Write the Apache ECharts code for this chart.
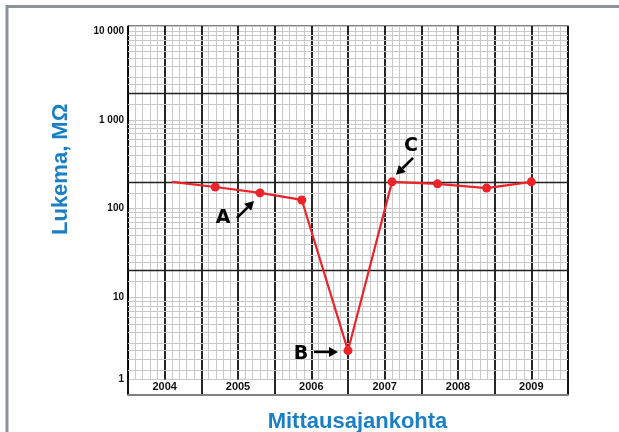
<!DOCTYPE html>
<html>
<head>
<meta charset="utf-8">
<script src="https://cdn.jsdelivr.net/npm/echarts@6/dist/echarts.min.js"></script>
<style>
html, body {margin: 0; padding: 0; background: #fff;}
#main {width: 619px; height: 432px;}
</style>
</head>
<body>
<div id="main"></div>
<script>
// measurement dates (fraction of year) and readings in megaohms
var years = ['2004', '2005', '2006', '2007', '2008', '2009'];
var times = [2004.1, 2004.69, 2005.3, 2005.87, 2006.5, 2007.1, 2007.72, 2008.39, 2009.0];
var readings = [200, 175, 150, 125, 2.5, 200, 190, 170, 200];
var yTicks = [1, 10, 100, 1000, 10000];
var heavyRows = [20, 200, 2000];
var paperRows = [1.5, 2, 2.5, 3, 4, 5, 6, 7, 8, 9,
  15, 25, 30, 40, 50, 60, 70, 80, 90,
  150, 250, 300, 400, 500, 600, 700, 800, 900,
  1500, 2500, 3000, 4000, 5000, 6000, 7000, 8000, 9000];
// which point each callout letter points at
var notes = [{idx: 2, text: 'A'}, {idx: 4, text: 'B'}, {idx: 5, text: 'C'}];

var blue = '#1b7fc4', red = '#ec2329';
var chart = echarts.init(document.getElementById('main'));

function fmt(v) {
  var best = yTicks[0];
  yTicks.forEach(function (t) { if (Math.abs(Math.log10(t) - Math.log10(v)) < Math.abs(Math.log10(best) - Math.log10(v))) best = t; });
  if (Math.abs(Math.log10(best) - Math.log10(v)) > 0.1) return '';
  return String(best).replace(/\B(?=(\d{3})+(?!\d))/g, ' ');
}

var pts = times.map(function (t, i) {
  var d = {value: [t, readings[i]]};
  if (i === 0) d.symbol = 'none';
  return d;
});

chart.setOption({
  animation: false,
  grid: [
    {left: 128, right: 51, top: 26, bottom: 52.5, show: true, borderColor: '#000', borderWidth: 1.2},
    {left: 128, right: 51, top: 379.5, height: 15.5, show: true, borderColor: '#000', borderWidth: 1}
  ],
  xAxis: [{
    gridIndex: 0, type: 'value', min: 2003.5, max: 2009.5, interval: 0.5,
    axisLine: {show: false}, axisTick: {show: false}, axisLabel: {show: false},
    splitLine: {lineStyle: {color: '#000', width: 1.7}},
    minorTick: {show: false, splitNumber: 5},
    minorSplitLine: {show: true, lineStyle: {color: '#c9c9c9', width: 1}}
  }, {
    gridIndex: 1, type: 'category', data: years, boundaryGap: true,
    axisLine: {lineStyle: {color: '#808080', width: 2}},
    axisTick: {show: false},
    splitLine: {show: true, interval: 0, lineStyle: {color: '#000', width: 1.7}},
    axisLabel: {inside: true, margin: 8, verticalAlign: 'middle', color: '#111',
      fontFamily: 'Liberation Sans, Arial, sans-serif', fontWeight: 'bold', fontSize: 11}
  }],
  yAxis: [{
    gridIndex: 0, type: 'log', logBase: 10, min: 1.18, max: 11450,
    axisLine: {show: true, lineStyle: {color: '#000', width: 1}},
    axisTick: {show: false},
    axisLabel: {margin: 4, color: '#111', fontSize: 10, fontWeight: 'bold',
      fontFamily: 'Liberation Sans, Arial, sans-serif', showMaxLabel: false, formatter: fmt},
    splitLine: {lineStyle: {color: '#c9c9c9', width: 1}}
  }, {
    gridIndex: 1, type: 'value', show: false
  }],
  series: [{
    type: 'line', xAxisIndex: 0, yAxisIndex: 0, data: [], z: 1, silent: true,
    markLine: {
      silent: true, symbol: 'none', label: {show: false},
      lineStyle: {color: '#c9c9c9', width: 1, type: 'solid'},
      data: paperRows.map(function (v) { return {yAxis: v}; })
    }
  }, {
    type: 'line', xAxisIndex: 0, yAxisIndex: 0, data: [], z: 1, silent: true,
    markLine: {
      silent: true, symbol: 'none', label: {show: false},
      lineStyle: {color: '#222', width: 1.3, type: 'solid'},
      data: heavyRows.map(function (v) { return {yAxis: v}; })
    }
  }, {
    type: 'line', xAxisIndex: 0, yAxisIndex: 0, data: pts, z: 5,
    symbol: 'circle', symbolSize: 9,
    lineStyle: {color: red, width: 2.2},
    itemStyle: {color: red}
  }]
});

function arrow(x1, y1, x2, y2) {
  var a = Math.atan2(y2 - y1, x2 - x1), L = 9, W = 5;
  var bx = x2 - L * Math.cos(a), by = y2 - L * Math.sin(a);
  return [
    {type: 'line', z: 100, shape: {x1: x1, y1: y1, x2: bx, y2: by}, style: {stroke: '#000', lineWidth: 2.6}},
    {type: 'polygon', z: 100, shape: {points: [[x2, y2],
      [bx - W * Math.sin(a), by + W * Math.cos(a)],
      [bx + W * Math.sin(a), by - W * Math.cos(a)]]}, style: {fill: '#000'}}
  ];
}

// callout offsets from their points, in pixels
var callout = {
  A: {t: [-37, 25.5], a: [-23, 25, -6, 8]},
  B: {t: [-47, 3], a: [-34, 1.3, -10, 1.3]},
  C: {t: [19, -36], a: [21, -24, 4, -7]}
};

var g = [
  {type: 'polyline', shape: {points: [[7, 432], [7, 6.5], [619, 6.5]]}, style: {stroke: '#8d929b', lineWidth: 3, fill: null}},
  {type: 'text', x: 61, y: 235, rotation: Math.PI / 2,
    style: {text: 'Lukema, MΩ', fill: blue, font: 'bold 22px "Liberation Sans Narrow", "Liberation Sans", sans-serif',
      align: 'left', verticalAlign: 'middle'}},
  {type: 'text', x: 357.5, y: 421.5,
    style: {text: 'Mittausajankohta', fill: blue, font: 'bold 22px "Liberation Sans Narrow", "Liberation Sans", sans-serif',
      align: 'center', verticalAlign: 'middle'}}
];
notes.forEach(function (n) {
  var p = chart.convertToPixel({gridIndex: 0}, [times[n.idx], readings[n.idx]]);
  var c = callout[n.text];
  g.push({type: 'text', z: 100, x: p[0] + c.t[0], y: p[1] + c.t[1],
    style: {text: n.text, fill: '#000', font: 'bold 19px "DejaVu Sans", sans-serif', align: 'center', verticalAlign: 'middle'}});
  g = g.concat(arrow(p[0] + c.a[0], p[1] + c.a[1], p[0] + c.a[2], p[1] + c.a[3]));
});
chart.setOption({graphic: g});
</script>
</body>
</html>
